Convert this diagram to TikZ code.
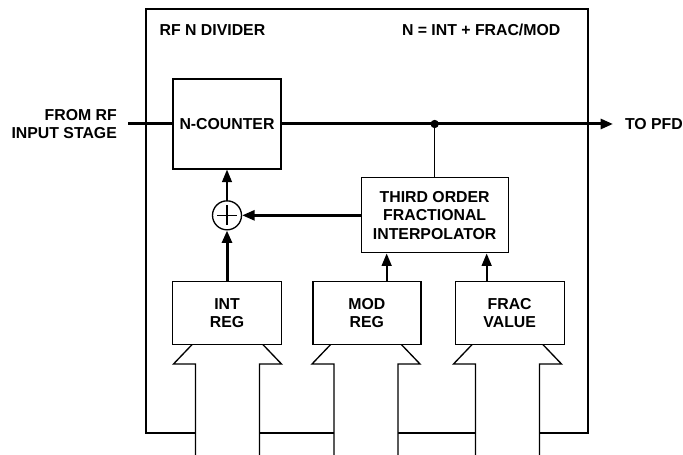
\documentclass[tikz,border=0pt]{standalone}
\usepackage{fontspec}
\setmainfont{Liberation Sans}
\usepackage{tikz}
\usetikzlibrary{arrows.meta, positioning, calc}

\begin{document}
\begin{tikzpicture}[
        x=0.6pt, y=-0.6pt,
        every node/.style={font=\bfseries\fontsize{9.5}{11.2}\selectfont},
        block/.style={
            rectangle,
            draw=black,
            line width=0.8pt,
            fill=white,
            align=center,
            minimum width=#1,
            minimum height=37.8pt,
            inner sep=0pt
        },
        lbl/.style={inner sep=0pt, align=center},
        sig/.style={line width=1.8pt},
        wire/.style={line width=0.8pt},
        tip/.style={-{Triangle[length=7.5pt, width=6pt]}},
        bus/.style={line width=0.8pt, fill=white}
    ]
    \useasboundingbox (0,0) rectangle (683,455);

    % Outer divider frame and its two titles
    \node[block=265.2pt, minimum height=254.4pt, fill=none] (divider) at (367,221) {};
    \node[lbl, below right=9.5pt and 8.4pt of divider.north west] (title) {RF N DIVIDER};
    \node[lbl, below left=9.5pt and 16.8pt of divider.north east] (formula) {N = INT + FRAC/MOD};

    % Counter, adder and interpolator
    \node[block=64.8pt, minimum height=54pt] (nctr) at (227,124) {N-COUNTER};
    \node[circle, draw, line width=0.8pt, minimum size=17.4pt, inner sep=0pt, below=18.3pt of nctr] (sum) {};
    \draw[line width=0.8pt] ($(sum.center)+(-10,0)$) -- ($(sum.center)+(10,0)$)
                            ($(sum.center)+(0,-10)$) -- ($(sum.center)+(0,10)$);
    \node[block=88.2pt, minimum height=45pt, right=71pt of sum] (tofi) {THIRD ORDER\\FRACTIONAL\\INTERPOLATOR};

    % Bus arrows into the registers (drawn before the registers)
    \foreach \r/\c in {intreg/227.5, modreg/366, fracval/507.5}
        \draw[bus] (\c-32,455) -- (\c-32,364) -- (\c-54,364) -- (\c-32,341)
                   -- (\c+32,341) -- (\c+54,364) -- (\c+32,364) -- (\c+32,455);

    % Registers
    \node[block=65.4pt, below=30.3pt of sum] (intreg) {INT\\REG};
    \node[block=64.8pt, right=18pt of intreg] (modreg) {MOD\\REG};
    \node[block=65.4pt, right=19.8pt of modreg] (fracval) {FRAC\\VALUE};

    % RF path through the counter
    \coordinate (rfin) at (128,124);
    \coordinate (pfd) at (613,124);
    \draw[sig] (rfin) -- (nctr.west);
    \draw[sig, tip] (nctr.east) -- (pfd);
    \node[circle, fill=black, inner sep=0pt, minimum size=5pt] (tap) at (tofi.north |- pfd) {};
    \draw[wire] (tap) -- (tofi.north);
    \node[lbl, align=right, left=6.5pt of rfin] (rflabel) {FROM RF\\INPUT STAGE};
    \node[lbl, right=7pt of pfd] (pfdlabel) {TO PFD};

    % Feedback into the adder
    \draw[sig, tip] (intreg.north) -- (sum.south);
    \draw[line width=1.6pt, tip] (tofi.west) -- (sum.east);
    \draw[wire, tip] (sum.north) -- (nctr.south);

    % Register values into the interpolator
    \coordinate (modtap) at ($(tofi.south)+(-48,0)$);
    \coordinate (fractap) at ($(tofi.south)+(52,0)$);
    \draw[line width=1pt, tip] (modreg.north -| modtap) -- (modtap);
    \draw[line width=1pt, tip] (fracval.north -| fractap) -- (fractap);

\end{tikzpicture}
\end{document}
